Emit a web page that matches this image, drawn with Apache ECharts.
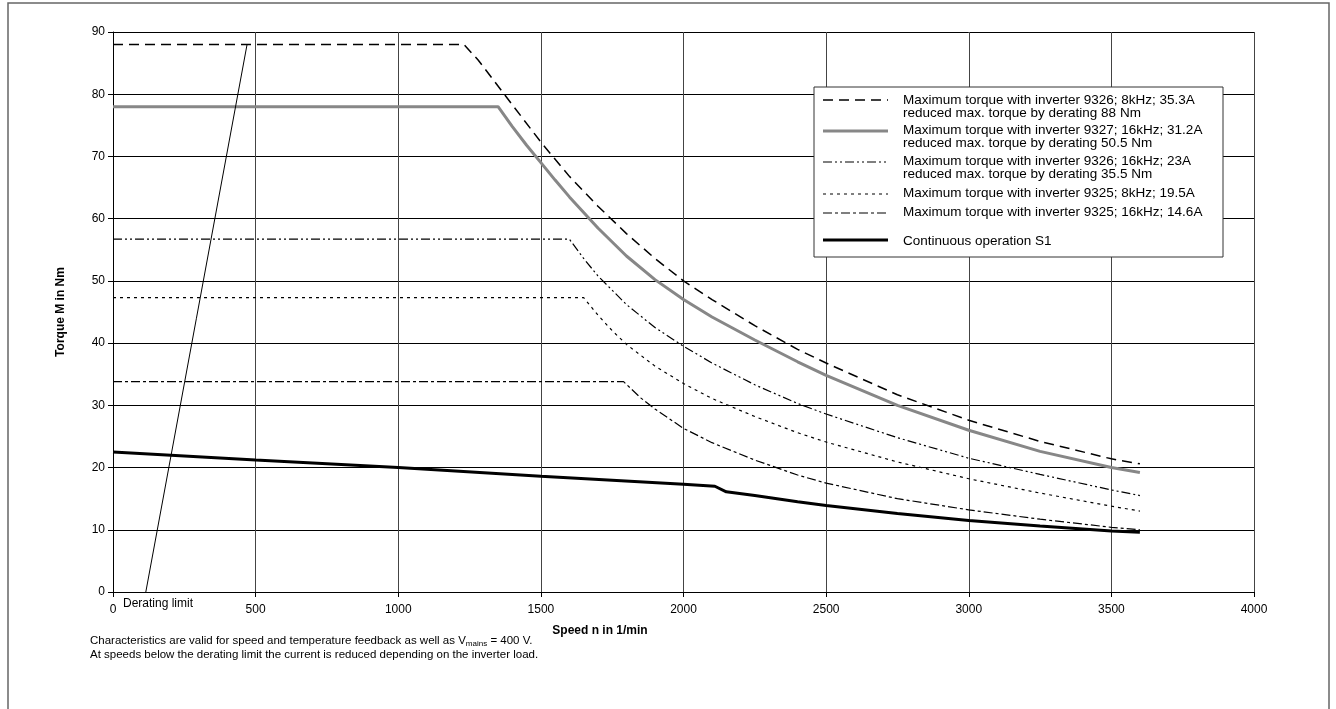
<!DOCTYPE html>
<html>
<head>
<meta charset="utf-8">
<script src="https://cdn.jsdelivr.net/npm/echarts@6/dist/echarts.min.js"></script>
<style>
html,body{margin:0;padding:0;background:#fff;}
#chart{width:1336px;height:709px;}
</style>
</head>
<body>
<div id="chart"></div>
<script>
// ---- data ----
const xTicks = [0, 500, 1000, 1500, 2000, 2500, 3000, 3500, 4000];
const yTicks = [0, 10, 20, 30, 40, 50, 60, 70, 80, 90];

const s9326_8k = [[0,88],[1230,88],[1280,85.5],[1330,82.5],[1400,78.3],[1500,72.3],[1600,66.8],[1700,62],[1800,57.6],[1900,53.6],[2000,50],[2100,47],[2250,42.8],[2400,39],[2500,36.8],[2750,31.7],[3000,27.6],[3250,24.2],[3500,21.4],[3600,20.6]];
const s9327_16k = [[0,78],[1350,78],[1400,74.8],[1450,71.8],[1500,69],[1550,66.2],[1600,63.5],[1700,58.5],[1800,54],[1900,50.2],[2000,47],[2100,44.2],[2250,40.5],[2400,37],[2500,34.8],[2750,30],[3000,26],[3250,22.6],[3500,20],[3600,19.2]];
const s9326_16k = [[0,56.7],[1600,56.7],[1650,53.6],[1700,50.8],[1800,46.2],[1900,42.5],[2000,39.5],[2100,36.8],[2250,33.3],[2400,30.3],[2500,28.6],[2750,24.8],[3000,21.5],[3250,18.9],[3500,16.4],[3600,15.5]];
const s9325_8k = [[0,47.3],[1650,47.3],[1700,44.5],[1750,42],[1800,39.8],[1900,36.3],[2000,33.5],[2100,31.1],[2250,28.2],[2400,25.6],[2500,24.1],[2750,20.9],[3000,18.2],[3250,15.9],[3500,13.8],[3600,13]];
const s9325_16k = [[0,33.8],[1790,33.8],[1850,31.2],[1900,29.4],[2000,26.3],[2100,24],[2250,21.2],[2400,18.8],[2500,17.5],[2750,15],[3000,13.2],[3250,11.7],[3500,10.4],[3600,10]];
const sS1 = [[0,22.5],[500,21.2],[1000,20],[1500,18.6],[2000,17.3],[2110,17],[2150,16.1],[2250,15.5],[2400,14.5],[2500,13.9],[2750,12.6],[3000,11.5],[3250,10.6],[3500,9.8],[3600,9.6]];
const derating = [[115,0],[470,88]];

const legendNames = [
  'Maximum torque with inverter 9326; 8kHz; 35.3A\nreduced max. torque by derating 88 Nm',
  'Maximum torque with inverter 9327; 16kHz; 31.2A\nreduced max. torque by derating 50.5 Nm',
  'Maximum torque with inverter 9326; 16kHz; 23A\nreduced max. torque by derating 35.5 Nm',
  'Maximum torque with inverter 9325; 8kHz; 19.5A',
  'Maximum torque with inverter 9325; 16kHz; 14.6A',
  'Continuous operation S1'
];
const xName = 'Speed n in 1/min';
const yName = 'Torque M in Nm';
const deratingLabel = 'Derating limit';
const note1 = 'Characteristics are valid for speed and temperature feedback as well as V{sub|mains} = 400 V.';
const note2 = 'At speeds below the derating limit the current is reduced depending on the inverter load.';

// ---- styles ----
const FONT = '"Liberation Sans", Arial, sans-serif';
const styles = [
  {color:'#000', width:1.5, type:[10,6]},
  {color:'#878787', width:3, type:'solid'},
  {color:'#000', width:1.2, type:[9,3,2,3,2,3]},
  {color:'#000', width:1.2, type:[3,4]},
  {color:'#000', width:1.2, type:[9,3,3,3]},
  {color:'#000', width:3, type:'solid'}
];
const seriesData = [s9326_8k, s9327_16k, s9326_16k, s9325_8k, s9325_16k, sS1];

const chart = echarts.init(document.getElementById('chart'), null, {renderer:'canvas'});

const series = seriesData.map((d, i) => ({
  name: legendNames[i],
  type: 'line',
  data: d,
  symbol: 'none',
  lineStyle: styles[i],
  z: 3 + (i === 1 ? 0 : 1),
  animation: false
}));
series.push({
  name: 'derating',
  type: 'line',
  data: derating,
  symbol: 'none',
  lineStyle: {color:'#000', width:1},
  z: 3,
  animation: false
});

// legend drawn as graphic box
const legX = 814, legY = 87, legW = 409, legH = 170;
const iconY = [100, 131, 162, 194, 213, 240];
const textY = [101, 131, 162, 194, 213, 242];
const legendGraphics = [{
  type:'rect', shape:{x:legX, y:legY, width:legW, height:legH},
  style:{fill:'#fff', stroke:'#333', lineWidth:1}, z:10
}];
styles.forEach((st, i) => {
  legendGraphics.push({
    type:'line', shape:{x1:823, y1:iconY[i], x2:888, y2:iconY[i]},
    style:{stroke:st.color, lineWidth:st.width, lineDash: st.type === 'solid' ? null : st.type}, z:11
  });
  legendGraphics.push({
    type:'text', z:11,
    style:{
      text: legendNames[i],
      x: 903, y: textY[i] - 7,
      align: 'left',
      verticalAlign:'top',
      font: '13.5px ' + FONT,
      fill:'#000',
      lineHeight: 13
    }
  });
});

const option = {
  backgroundColor:'#fff',
  animation:false,
  grid:{left:113, right:82, top:32, bottom:117, containLabel:false},
  xAxis:{
    type:'value', min:0, max:4000, interval:500,
    axisLine:{show:true, onZero:false, lineStyle:{color:'#000', width:1}},
    axisTick:{show:true, length:5, lineStyle:{color:'#000'}},
    axisLabel:{color:'#000', fontSize:12, fontFamily:FONT, margin:12,
      formatter: v => xTicks.indexOf(v) >= 0 ? String(v) : ''},
    splitLine:{show:true, lineStyle:{color:'#444', width:1}}
  },
  yAxis:{
    type:'value', min:0, max:90, interval:10,
    name: yName, nameLocation:'middle', nameGap:46, nameRotate:90,
    nameTextStyle:{color:'#000', fontSize:12, fontWeight:'bold', fontFamily:FONT},
    axisLine:{show:true, lineStyle:{color:'#000', width:1}},
    axisTick:{show:true, length:5, lineStyle:{color:'#000'}},
    axisLabel:{color:'#000', fontSize:12, fontFamily:FONT, margin:8,
      formatter: v => yTicks.indexOf(v) >= 0 ? String(v) : ''},
    splitLine:{show:true, lineStyle:{color:'#000', width:1}}
  },
  series: series,
  graphic: [
    {type:'rect', shape:{x:8, y:3, width:1321, height:740}, style:{fill:null, stroke:'#666', lineWidth:1.5}, z:0, silent:true},
    {type:'text', z:5, style:{text:deratingLabel, x:123, y:604, verticalAlign:'middle', font:'12px ' + FONT, fill:'#000'}},
    {type:'text', z:5, style:{text:xName, x:600, y:631, align:'center', verticalAlign:'middle', font:'bold 12px ' + FONT, fill:'#000'}},
    {type:'text', z:5, style:{text:note1, x:90, y:641, verticalAlign:'middle', font:'11.5px ' + FONT, fill:'#000',
      rich:{sub:{fontSize:8, fontFamily:FONT, padding:[6,0,0,0], verticalAlign:'bottom'}}}},
    {type:'text', z:5, style:{text:note2, x:90, y:655, verticalAlign:'middle', font:'11.5px ' + FONT, fill:'#000'}}
  ].concat(legendGraphics)
};
chart.setOption(option);
</script>
</body>
</html>
